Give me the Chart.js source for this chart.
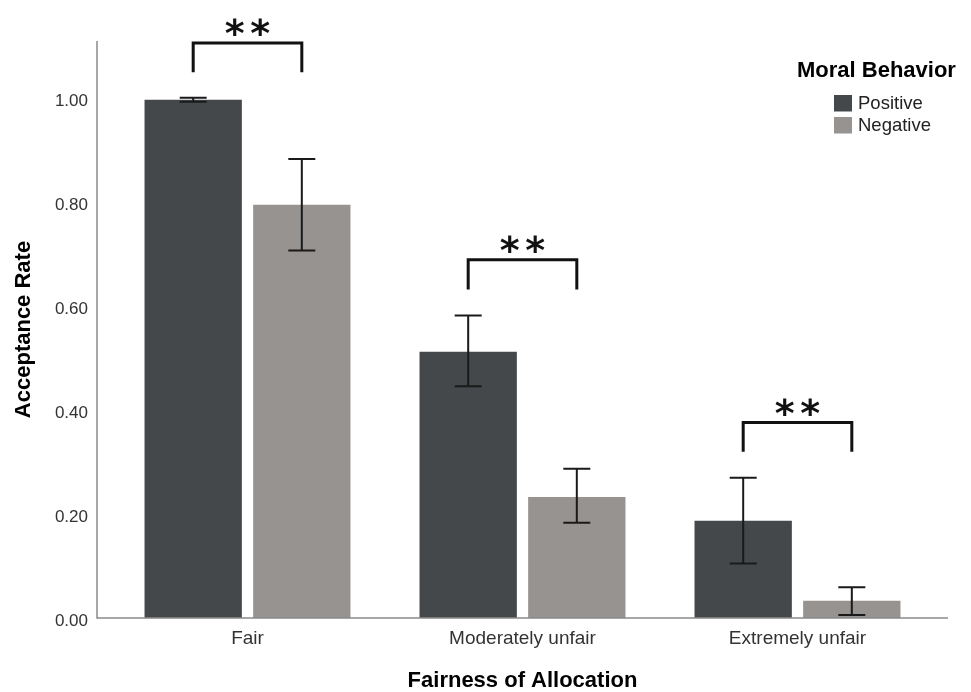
<!DOCTYPE html>
<html lang="en">
<head>
  <meta charset="UTF-8">
  <title>Acceptance Rate by Fairness of Allocation</title>
  <script src="https://cdn.jsdelivr.net/npm/chart.js"></script>
  <style>
    body { margin: 0; background: #fff; }
    .wrap { position: relative; width: 971px; height: 692px; }
  </style>
</head>
<body>
  <div class="wrap"><canvas id="chart"></canvas></div>

  <script>
    // data
    const categories = ['Fair', 'Moderately unfair', 'Extremely unfair'];
    const seriesNames = ['Positive', 'Negative'];
    const positiveMeans = [0.997, 0.512, 0.187];
    const positiveLow   = [0.993, 0.446, 0.105];
    const positiveHigh  = [1.001, 0.582, 0.270];
    const negativeMeans = [0.795, 0.233, 0.033];
    const negativeLow   = [0.707, 0.183, 0.006];
    const negativeHigh  = [0.883, 0.287, 0.059];
    const yTicks = [0, 0.2, 0.4, 0.6, 0.8, 1.0];
    // significance brackets (top line and foot level, in acceptance-rate units)
    const sigLabels = ['**', '**', '**'];
    const sigTop    = [1.106, 0.689, 0.376];
    const sigFoot   = [1.050, 0.632, 0.320];

    const DARK = '#44484b';
    const GREY = '#969390';

    Chart.defaults.font.family = '"Liberation Sans", Arial, sans-serif';
    Chart.defaults.color = '#333';

    // error bars, brackets, axis lines and the legend box
    const extras = {
      id: 'extras',
      afterDatasetsDraw(chart) {
        const ctx = chart.ctx;
        const y = chart.scales.y;
        const area = chart.chartArea;
        const lows = [positiveLow, negativeLow];
        const highs = [positiveHigh, negativeHigh];

        ctx.save();

        // axis lines, a bit wider than the plot area like SPSS
        ctx.strokeStyle = '#8a8a8a';
        ctx.lineWidth = 1.5;
        ctx.beginPath();
        ctx.moveTo(area.left - 13, area.top);
        ctx.lineTo(area.left - 13, area.bottom);
        ctx.lineTo(area.right + 13, area.bottom);
        ctx.stroke();

        // error bars
        ctx.strokeStyle = '#1a1a1a';
        ctx.lineWidth = 2;
        [0, 1].forEach(d => {
          chart.getDatasetMeta(d).data.forEach((bar, i) => {
            const x = bar.x;
            const yl = y.getPixelForValue(lows[d][i]);
            const yh = y.getPixelForValue(highs[d][i]);
            ctx.beginPath();
            ctx.moveTo(x, yl); ctx.lineTo(x, yh);
            ctx.moveTo(x - 13.5, yl); ctx.lineTo(x + 13.5, yl);
            ctx.moveTo(x - 13.5, yh); ctx.lineTo(x + 13.5, yh);
            ctx.stroke();
          });
        });

        // significance brackets
        ctx.strokeStyle = '#111';
        ctx.lineWidth = 3;
        ctx.fillStyle = '#111';
        ctx.font = 'bold 38px "DejaVu Sans"';
        ctx.textAlign = 'center';
        ctx.textBaseline = 'alphabetic';
        categories.forEach((c, i) => {
          const x1 = chart.getDatasetMeta(0).data[i].x;
          const x2 = chart.getDatasetMeta(1).data[i].x;
          const yt = y.getPixelForValue(sigTop[i]);
          const yf = y.getPixelForValue(sigFoot[i]);
          ctx.beginPath();
          ctx.moveTo(x1, yf); ctx.lineTo(x1, yt);
          ctx.lineTo(x2, yt); ctx.lineTo(x2, yf);
          ctx.stroke();

          const chars = sigLabels[i].split('');
          const mid = (x1 + x2) / 2;
          const cy = yt - 16;
          chars.forEach((ch, k) => {
            const m = ctx.measureText(ch);
            const off = (m.actualBoundingBoxAscent - m.actualBoundingBoxDescent) / 2;
            const cx = mid + (k - (chars.length - 1) / 2) * 25.5;
            ctx.fillText(ch, cx, cy + off);
          });
        });

        // legend
        ctx.textAlign = 'left';
        ctx.textBaseline = 'middle';
        ctx.fillStyle = '#000';
        ctx.font = 'bold 22px "Liberation Sans", Arial, sans-serif';
        ctx.fillText('Moral Behavior', 797, 71);
        ctx.font = '18.5px "Liberation Sans", Arial, sans-serif';
        [DARK, GREY].forEach((col, k) => {
          const top = 95 + k * 22;
          ctx.fillStyle = col;
          ctx.fillRect(834, top, 18, 16.5);
          ctx.fillStyle = '#222';
          ctx.fillText(seriesNames[k], 858, top + 9);
        });

        ctx.restore();
      }
    };

    new Chart(document.getElementById('chart'), {
      type: 'bar',
      data: {
        labels: categories,
        datasets: [
          { label: seriesNames[0], data: positiveMeans, backgroundColor: DARK },
          { label: seriesNames[1], data: negativeMeans, backgroundColor: GREY }
        ]
      },
      options: {
        responsive: true,
        maintainAspectRatio: false,
        animation: false,
        layout: { padding: { top: 41, right: 36, left: 0, bottom: 0 } },
        datasets: { bar: { barPercentage: 0.896, categoryPercentage: 0.79 } },
        scales: {
          x: {
            grid: { display: false, drawTicks: false },
            border: { display: false },
            ticks: {
              padding: 9,
              maxRotation: 0,
              autoSkip: false,
              color: '#333',
              font: { size: 19 }
            },
            title: {
              display: true,
              text: 'Fairness of Allocation',
              color: '#000',
              font: { size: 22, weight: 'bold', lineHeight: 1 },
              padding: { top: 0, bottom: 0 }
            },
            afterFit: s => { s.height = 74; }
          },
          y: {
            min: 0,
            max: 1.11,
            grid: { display: false, drawTicks: false },
            border: { display: false },
            afterBuildTicks: s => { s.ticks = yTicks.map(v => ({ value: v })); },
            ticks: {
              padding: 22,
              labelOffset: 3,
              color: '#333',
              font: { size: 17 },
              callback: v => Number(v).toFixed(2)
            },
            title: {
              display: true,
              text: 'Acceptance Rate',
              color: '#000',
              font: { size: 22, weight: 'bold', lineHeight: 1 },
              padding: { top: 13, bottom: 0 }
            },
            afterFit: s => { s.width = 110; }
          }
        },
        plugins: {
          legend: { display: false },
          tooltip: { enabled: false }
        }
      },
      plugins: [extras]
    });
  </script>
</body>
</html>
